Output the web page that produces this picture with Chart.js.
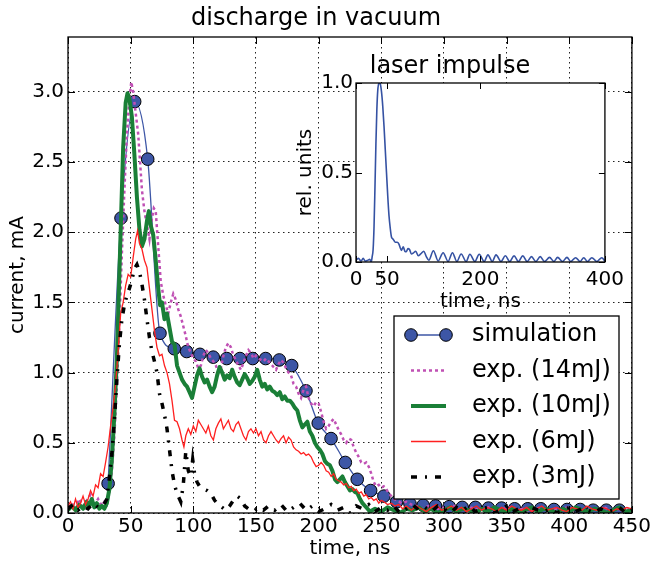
<!DOCTYPE html>
<html><head><meta charset="utf-8">
<script src="https://cdn.jsdelivr.net/npm/chart.js@4.4.0/dist/chart.umd.min.js"></script>
<style>
html,body{margin:0;padding:0;background:#fff;}
#wrap{position:relative;width:653px;height:562px;background:#fff;}
#main{position:absolute;left:0;top:0;}
#inset{position:absolute;left:290px;top:40px;}
</style></head><body>
<div id="wrap"><canvas id="main" width="653" height="562"></canvas><canvas id="inset" width="340" height="280"></canvas></div>
<script>
// ---------- data ----------
const xTicks = [0,50,100,150,200,250,300,350,400,450];
const yTicks = [0,0.5,1.0,1.5,2.0,2.5,3.0];
const insetXTicks = [0,50,200,400];
const insetYTicks = [0,0.5,1.0];
const legendLabels = ['simulation','exp. (14mJ)','exp. (10mJ)','exp. (6mJ)','exp. (3mJ)'];

const simTime = [32,42.3,53.2,63.6,73.4,84.8,94.7,105.3,115.9,126.6,137.2,147.4,157.7,168.6,178.5,189.9,199.7,209.9,221.3,230.8,241.5,252.1,262.3,272.9,283.4,293.3,304.2,314.6,325.1,335.5,346,356.4,366.9,377.3,387.8,398.2,408.7,419.1,429.6,440];
const simCurrent = [0.21,2.10,2.93,2.52,1.28,1.17,1.15,1.13,1.11,1.10,1.10,1.10,1.10,1.09,1.05,0.87,0.64,0.53,0.36,0.24,0.16,0.12,0.08,0.065,0.055,0.05,0.045,0.04,0.04,0.035,0.035,0.03,0.03,0.03,0.025,0.025,0.025,0.02,0.02,0.02];

const exp14mJ = [[0,0.04],[3,0.07],[6,0.03],[9,0.1],[12,0.05],[15,0.09],[18,0.13],[21,0.06],[24,0.1],[27,0.05],[29,0.08],[31,0.06],[33,0.15],[35,0.3],[37,0.55],[39,0.9],[41,1.35],[43,1.85],[45,2.3],[47,2.7],[49,2.95],[50.5,3.07],[52,3.0],[54,2.85],[56,2.7],[57.5,2.5],[59,2.3],[61,2.15],[63,2.05],[65,1.95],[67,2.1],[68.5,2.17],[70,2.15],[72,1.9],[74,1.65],[76,1.55],[78,1.48],[80,1.42],[82,1.5],[84,1.56],[86,1.52],[88,1.45],[90,1.4],[92,1.33],[94,1.26],[96,1.18],[98,1.14],[100,1.1],[102,1.08],[104,1.03],[106,1.05],[108,1.12],[110,1.16],[112,1.14],[114,1.1],[116,1.08],[118,1.05],[120,1.0],[122,1.03],[124,1.12],[126,1.18],[128,1.21],[130,1.18],[132,1.12],[134,1.09],[136,1.05],[138,1.02],[140,1.07],[142,1.12],[144,1.16],[146,1.14],[148,1.1],[150,1.12],[152,1.1],[154,1.09],[156,1.08],[158,1.1],[160,1.08],[162,1.06],[164,1.04],[166,1.02],[168,1.06],[170,1.09],[172,1.07],[174,1.03],[176,1.0],[178,0.98],[180,0.92],[182,0.9],[184,0.85],[186,0.82],[188,0.88],[190,0.9],[192,0.82],[194,0.78],[196,0.76],[198,0.79],[200,0.78],[202,0.72],[204,0.65],[206,0.6],[208,0.62],[210,0.65],[212,0.67],[214,0.63],[216,0.59],[218,0.56],[220,0.52],[222,0.5],[224,0.53],[226,0.52],[228,0.47],[230,0.43],[232,0.4],[234,0.36],[236,0.35],[238,0.36],[240,0.33],[242,0.28],[244,0.22],[246,0.19],[248,0.2],[250,0.18],[252,0.19],[254,0.17],[256,0.14],[258,0.12],[260,0.1],[263,0.09],[266,0.07],[270,0.08],[274,0.06],[278,0.05],[283,0.03],[288,0.05],[293,0.02],[298,0.04],[303,0.03],[308,0.05],[313,0.02],[318,0.03],[323,0.04],[328,0.02],[333,0.03],[338,0.05],[343,0.02],[348,0.03],[353,0.04],[358,0.02],[363,0.03],[368,0.01],[373,0.03],[378,0.04],[383,0.02],[388,0.03],[393,0.02],[398,0.04],[403,0.02],[408,0.03],[413,0.01],[418,0.03],[423,0.02],[428,0.04],[433,0.02],[438,0.03],[443,0.01],[448,0.03]];

const exp10mJ = [[0,0.02],[3,0.05],[6,0.02],[9,0.06],[12,0.03],[15,0.08],[17,0.05],[19,0.1],[21,0.04],[23,0.07],[25,0.03],[27,0.05],[29,0.03],[31,0.07],[33,0.17],[35,0.38],[37,0.7],[39,1.1],[41,1.7],[42.5,2.15],[44,2.6],[46,2.92],[47.5,2.99],[49,2.95],[51,2.82],[53,2.55],[55,2.25],[57,2.02],[59,1.9],[61,1.95],[63,2.08],[64.5,2.15],[66,2.05],[68,1.98],[70,1.8],[72,1.6],[73.5,1.48],[75,1.5],[77,1.38],[79,1.42],[81,1.32],[83,1.22],[85,1.2],[87,1.05],[89,1.0],[91,0.95],[93,0.92],[95,0.9],[97,0.86],[99,0.82],[101,0.9],[103,0.98],[105,1.03],[107,0.97],[109,0.93],[111,0.95],[113,0.9],[115,0.86],[117,0.9],[119,0.98],[121,1.04],[123,1.0],[125,0.95],[127,0.98],[129,0.96],[131,1.02],[133,0.97],[135,0.93],[137,0.91],[139,0.95],[141,0.99],[143,0.96],[145,0.92],[147,0.94],[149,0.97],[151,1.02],[153,0.95],[155,0.9],[157,0.92],[159,0.88],[161,0.9],[163,0.87],[165,0.86],[167,0.84],[169,0.86],[171,0.81],[173,0.83],[175,0.8],[177,0.8],[179,0.78],[181,0.75],[183,0.73],[185,0.66],[187,0.61],[189,0.63],[191,0.65],[193,0.58],[195,0.55],[197,0.5],[199,0.47],[201,0.45],[203,0.42],[205,0.37],[207,0.35],[209,0.34],[211,0.3],[213,0.24],[215,0.22],[217,0.24],[219,0.26],[221,0.22],[223,0.19],[225,0.16],[227,0.17],[229,0.15],[231,0.14],[233,0.1],[235,0.07],[237,0.05],[239,0.03],[241,0.01],[245,0.03],[250,0.01],[255,0.04],[260,0.02],[265,0.0],[270,0.03],[275,0.02],[280,0.04],[285,0.01],[290,0.03],[295,0.0],[300,0.02],[305,0.04],[310,0.01],[315,0.03],[320,0.02],[325,0.0],[330,0.03],[335,0.01],[340,0.04],[345,0.02],[350,0.01],[355,0.03],[360,0.0],[365,0.02],[370,0.04],[375,0.01],[380,0.03],[385,0.02],[390,0.0],[395,0.03],[400,0.01],[405,0.04],[410,0.02],[415,0.01],[420,0.03],[425,0.02],[430,0.0],[435,0.02],[440,0.04],[445,0.01],[450,0.02]];

const exp6mJ = [[0,0.05],[2,0.08],[4,0.03],[6,0.1],[8,0.04],[10,0.07],[12,0.12],[14,0.06],[16,0.1],[18,0.16],[20,0.12],[22,0.2],[24,0.18],[26,0.28],[28,0.26],[30,0.36],[32,0.47],[34,0.62],[36,0.75],[38,0.92],[40,1.15],[42,1.42],[44,1.5],[46,1.62],[48,1.7],[50,1.68],[52,1.82],[54,1.95],[55.5,2.01],[57,1.92],[59,1.88],[61,1.8],[63,1.75],[65,1.6],[67,1.45],[69,1.3],[71,1.18],[73,1.12],[75,1.13],[77,1.05],[79,1.0],[81,0.92],[83,0.8],[85,0.66],[87,0.65],[89,0.6],[91,0.52],[92.5,0.47],[94,0.55],[96,0.6],[98,0.56],[100,0.62],[102,0.58],[104,0.66],[106,0.63],[108,0.6],[110,0.57],[112,0.62],[114,0.55],[116,0.52],[118,0.6],[120,0.64],[122,0.67],[124,0.6],[126,0.63],[128,0.66],[130,0.6],[132,0.58],[134,0.63],[136,0.65],[138,0.6],[140,0.55],[142,0.52],[144,0.58],[146,0.6],[148,0.57],[150,0.6],[152,0.55],[154,0.58],[156,0.52],[158,0.5],[160,0.55],[162,0.58],[164,0.55],[166,0.52],[168,0.5],[170,0.53],[172,0.55],[174,0.5],[176,0.54],[178,0.52],[180,0.47],[182,0.45],[184,0.44],[186,0.42],[188,0.43],[190,0.41],[192,0.42],[194,0.4],[196,0.36],[198,0.33],[200,0.34],[202,0.36],[204,0.34],[206,0.3],[208,0.29],[210,0.26],[212,0.28],[214,0.24],[216,0.23],[218,0.22],[220,0.2],[222,0.21],[224,0.18],[226,0.19],[228,0.16],[230,0.17],[232,0.14],[234,0.15],[236,0.12],[238,0.13],[240,0.1],[242,0.11],[244,0.09],[246,0.1],[248,0.07],[250,0.09],[252,0.08],[255,0.06],[258,0.07],[261,0.05],[264,0.06],[267,0.03],[270,0.05],[274,0.02],[278,0.05],[282,0.03],[286,0.01],[290,0.04],[294,0.06],[298,0.02],[302,0.03],[306,0.05],[310,0.02],[314,0.04],[318,0.01],[322,0.03],[326,0.05],[330,0.02],[334,0.04],[338,0.03],[342,0.01],[346,0.04],[350,0.02],[354,0.05],[358,0.03],[362,0.02],[366,0.04],[370,0.01],[374,0.03],[378,0.05],[382,0.02],[386,0.03],[390,0.04],[394,0.02],[398,0.01],[402,0.04],[406,0.03],[410,0.02],[414,0.05],[418,0.03],[422,0.02],[426,0.04],[430,0.03],[434,0.01],[438,0.03],[442,0.02],[446,0.04],[450,0.03]];

const exp3mJ = [[0,0.03],[4,0.06],[8,0.02],[12,0.05],[16,0.03],[20,0.07],[24,0.04],[28,0.05],[31,0.1],[33,0.25],[35,0.42],[37,0.66],[39,0.95],[41,1.2],[43,1.38],[45,1.48],[47,1.55],[49,1.6],[51,1.66],[53,1.74],[55,1.77],[57,1.72],[59,1.63],[61,1.52],[63,1.38],[65,1.25],[67,1.15],[69,1.08],[71,1.0],[73,0.85],[75,0.78],[77,0.7],[79,0.6],[81,0.45],[83,0.3],[85,0.2],[87,0.14],[90,0.08],[92,0.2],[94,0.44],[96,0.3],[98,0.26],[99.5,0.38],[101,0.28],[103,0.22],[105,0.19],[108,0.17],[111,0.16],[114,0.14],[117,0.09],[120,0.06],[123,0.04],[126,0.02],[129,0.05],[132,0.09],[135,0.12],[138,0.1],[141,0.05],[144,0.03],[148,0.01],[152,0.04],[156,0.02],[160,0.05],[165,0.02],[170,0.06],[175,0.01],[180,0.04],[185,0.07],[190,0.02],[195,0.05],[200,0.01],[205,0.03],[210,0.06],[215,0.02],[220,0.04],[225,0.0],[230,0.05],[235,0.03],[240,0.06],[245,0.01],[250,0.04],[255,0.02],[260,0.05],[265,0.0],[270,0.03],[275,0.06],[280,0.02],[285,0.04],[290,0.01],[295,0.05],[300,0.03],[305,0.0],[310,0.04],[315,0.02],[320,0.05],[325,0.01],[330,0.03],[335,0.04],[340,0.0],[345,0.02],[350,0.05],[355,0.01],[360,0.03],[365,0.0],[370,0.04],[375,0.02],[380,0.01],[385,0.03],[390,0.0],[395,0.02],[400,0.04],[405,0.01],[410,0.03],[415,0.02],[420,0.0],[425,0.03],[430,0.01],[435,0.02],[440,0.04],[445,0.0],[450,0.02]];

const laserPulse = [[0,0.01],[4,0.02],[8,0.005],[11.5,0.02],[15,0.005],[19,0.01],[22,0.015],[24.5,0.0],[26,0.03],[27.5,0.07],[29,0.2],[30.5,0.42],[32,0.66],[33.5,0.85],[35,0.96],[37,1.0],[39,0.995],[41,0.95],[43,0.87],[45,0.76],[47,0.63],[49,0.5],[51,0.37],[53,0.26],[55,0.19],[57,0.14],[59,0.13],[61,0.12],[63,0.11],[66,0.11],[69,0.1],[71,0.08],[73,0.065],[76,0.085],[78.5,0.06],[81,0.058],[83.5,0.075],[86,0.07],[89,0.045],[92,0.05],[96,0.06],[100,0.035],[104,0.045],[109,0.06],[113,0.03],[117,0.01],[124.4,0.063],[132,0.006],[140,0.052],[148,0.003],[155,0.052],[162,0.003],[169,0.045],[177,0.003],[183,0.043],[191,0.003],[198,0.043],[206,0.003],[212,0.04],[219,0.003],[225,0.04],[233,0.003],[240,0.035],[247,0.003],[254,0.034],[261,0.003],[268,0.034],[275,0.003],[282,0.03],[289,0.003],[296,0.03],[303,0.003],[311,0.026],[318,0.003],[324,0.026],[332,0.003],[339,0.026],[345,0.003],[353,0.024],[360,0.003],[366,0.024],[372,0.003],[379,0.024],[387,0.003],[395,0.024],[400,0.005]];

// ---------- styling ----------
Chart.defaults.font.family = "'DejaVu Sans', sans-serif";
Chart.defaults.color = '#000';
const FONT = "'DejaVu Sans', sans-serif";
const C_SIM = '#3d56a6', C_14 = '#c050b4', C_10 = '#1a7f37', C_6 = '#ff2020', C_3 = '#000000';
const pts = arr => arr.map(p => ({x:p[0], y:p[1]}));

function frameAndTicks(chart, xs, ys, len, lw) {
  const {ctx, chartArea:a, scales} = chart;
  ctx.save();
  ctx.strokeStyle = '#000'; ctx.lineWidth = 1; ctx.setLineDash([]);
  ctx.beginPath();
  xs.forEach(v => { const p = Math.round(scales.x.getPixelForValue(v)) + 0.5;
    ctx.moveTo(p, a.bottom); ctx.lineTo(p, a.bottom - len);
    ctx.moveTo(p, a.top); ctx.lineTo(p, a.top + len); });
  ys.forEach(v => { const p = Math.round(scales.y.getPixelForValue(v)) + 0.5;
    ctx.moveTo(a.left, p); ctx.lineTo(a.left + len, p);
    ctx.moveTo(a.right, p); ctx.lineTo(a.right - len, p); });
  ctx.stroke();
  ctx.lineWidth = lw;
  ctx.strokeRect(a.left, a.top, a.right - a.left, a.bottom - a.top);
  ctx.restore();
}

const mainDeco = {
  id: 'mainDeco',
  beforeDraw(chart) { const c = chart.ctx; c.save(); c.fillStyle = '#fff'; c.fillRect(0,0,chart.width,chart.height); c.restore(); },
  afterDraw(chart) {
    frameAndTicks(chart, xTicks, yTicks, 7, 1.3);
    const ctx = chart.ctx;
    ctx.save();
    const L = 394, T = 316, R = 619, B = 499;
    ctx.fillStyle = '#fff'; ctx.fillRect(L, T, R - L, B - T);
    ctx.strokeStyle = '#000'; ctx.lineWidth = 1.3; ctx.strokeRect(L, T, R - L, B - T);
    const rows = [335, 370.5, 406, 441.5, 477];
    const x0 = 411, x1 = 446;
    const styles = [
      {c:C_SIM, w:1.3, d:[]}, {c:C_14, w:2.5, d:[3,3]}, {c:C_10, w:4, d:[]}, {c:C_6, w:1.3, d:[]}, {c:C_3, w:3.5, d:[6,8,2,8]}
    ];
    rows.forEach((y, i) => {
      const s = styles[i];
      ctx.beginPath(); ctx.strokeStyle = s.c; ctx.lineWidth = s.w; ctx.setLineDash(s.d); ctx.lineCap = 'butt';
      ctx.moveTo(x0, y); ctx.lineTo(x1, y); ctx.stroke();
      ctx.setLineDash([]);
      if (i === 0) {
        [x0, x1].forEach(px => { ctx.beginPath(); ctx.arc(px, y, 6.3, 0, Math.PI*2); ctx.fillStyle = C_SIM; ctx.fill(); ctx.lineWidth = 1; ctx.strokeStyle = '#000'; ctx.stroke(); });
      }
      ctx.fillStyle = '#000'; ctx.font = '24px ' + FONT; ctx.textBaseline = 'middle'; ctx.textAlign = 'left';
      ctx.fillText(legendLabels[i], 472, y);
    });
    ctx.restore();
  }
};

new Chart(document.getElementById('main'), {
  type: 'line',
  data: { datasets: [
    { label: legendLabels[0], data: simTime.map((t,i)=>({x:t, y:simCurrent[i]})), borderColor: C_SIM, borderWidth: 1.3,
      pointRadius: 6.3, pointBackgroundColor: C_SIM, pointBorderColor: '#000', pointBorderWidth: 1, cubicInterpolationMode: 'monotone', order: 5 },
    { label: legendLabels[1], data: pts(exp14mJ), borderColor: C_14, borderWidth: 2.5, borderDash: [3,3], borderCapStyle: 'butt', pointRadius: 0, order: 4 },
    { label: legendLabels[2], data: pts(exp10mJ), borderColor: C_10, borderWidth: 4, pointRadius: 0, borderJoinStyle: 'round', order: 3 },
    { label: legendLabels[3], data: pts(exp6mJ), borderColor: C_6, borderWidth: 1.3, pointRadius: 0, order: 2 },
    { label: legendLabels[4], data: pts(exp3mJ), borderColor: C_3, borderWidth: 3.5, borderDash: [6,8,2,8], borderCapStyle: 'butt', pointRadius: 0, order: 1 }
  ]},
  options: {
    responsive: false, animation: false, devicePixelRatio: 1,
    layout: { padding: { left: 0, right: 21, top: 0, bottom: 0 } },
    plugins: { legend: { display: false }, tooltip: { enabled: false },
      title: { display: true, text: 'discharge in vacuum', color: '#000', font: { size: 24, weight: 'normal', family: FONT }, padding: { top: 4, bottom: 4.2 } } },
    scales: {
      x: { type: 'linear', min: 0, max: 450,
        afterBuildTicks: s => { s.ticks = xTicks.map(v => ({value: v})); },
        afterFit: s => { s.height = 49; },
        ticks: { font: { size: 20 }, color: '#000', padding: 2, maxRotation: 0, autoSkip: false, callback: v => String(v) },
        grid: { color: '#222', lineWidth: 1, drawTicks: false },
        border: { display: false, dash: [1.5, 3.5] },
        title: { display: true, text: 'time, ns', color: '#000', font: { size: 20 }, padding: { top: 0, bottom: 1 } } },
      y: { type: 'linear', min: 0, max: 3.39,
        afterBuildTicks: s => { s.ticks = yTicks.map(v => ({value: v})); },
        afterFit: s => { s.width = 68; },
        ticks: { font: { size: 20 }, color: '#000', padding: 4, callback: v => Number(v).toFixed(1) },
        grid: { color: '#222', lineWidth: 1, drawTicks: false },
        border: { display: false, dash: [1.5, 3.5] },
        title: { display: true, text: 'current, mA', color: '#000', font: { size: 20 }, padding: { top: 6, bottom: 0 } } }
    }
  },
  plugins: [mainDeco]
});

const insetDeco = {
  id: 'insetDeco',
  beforeDatasetsDraw(chart) { const {ctx, chartArea:a} = chart; ctx.save(); ctx.fillStyle = '#fff'; ctx.fillRect(a.left, a.top, a.right-a.left, a.bottom-a.top); ctx.restore(); },
  afterDraw(chart) { frameAndTicks(chart, insetXTicks, insetYTicks, 6, 1.3); }
};

new Chart(document.getElementById('inset'), {
  type: 'line',
  data: { datasets: [ { label: 'laser impulse', data: pts(laserPulse), borderColor: '#3552a3', borderWidth: 1.6, pointRadius: 0, cubicInterpolationMode: 'monotone' } ] },
  options: {
    responsive: false, animation: false, devicePixelRatio: 1,
    layout: { padding: { left: 0, right: 20, top: 0, bottom: 0 } },
    plugins: { legend: { display: false }, tooltip: { enabled: false },
      title: { display: true, text: 'laser impulse', color: '#000', font: { size: 24, weight: 'normal', family: FONT }, padding: { top: 12.6, bottom: 1.6 } } },
    scales: {
      x: { type: 'linear', min: 0, max: 400,
        afterBuildTicks: s => { s.ticks = insetXTicks.map(v => ({value: v})); },
        afterFit: s => { s.height = 58; },
        ticks: { font: { size: 20 }, color: '#000', padding: 6, maxRotation: 0, autoSkip: false, callback: v => String(v) },
        grid: { display: false, drawTicks: false }, border: { display: false },
        title: { display: true, text: 'time, ns', color: '#000', font: { size: 20 }, padding: { top: 0, bottom: 6 } } },
      y: { type: 'linear', min: 0, max: 1.0,
        afterBuildTicks: s => { s.ticks = insetYTicks.map(v => ({value: v})); },
        afterFit: s => { s.width = 66; },
        ticks: { font: { size: 20 }, color: '#000', padding: 3, callback: v => Number(v).toFixed(1) },
        grid: { display: false, drawTicks: false }, border: { display: false },
        title: { display: true, text: 'rel. units', color: '#000', font: { size: 20 }, padding: { top: 4, bottom: 0 } } }
    }
  },
  plugins: [insetDeco]
});
</script>
</body></html>
